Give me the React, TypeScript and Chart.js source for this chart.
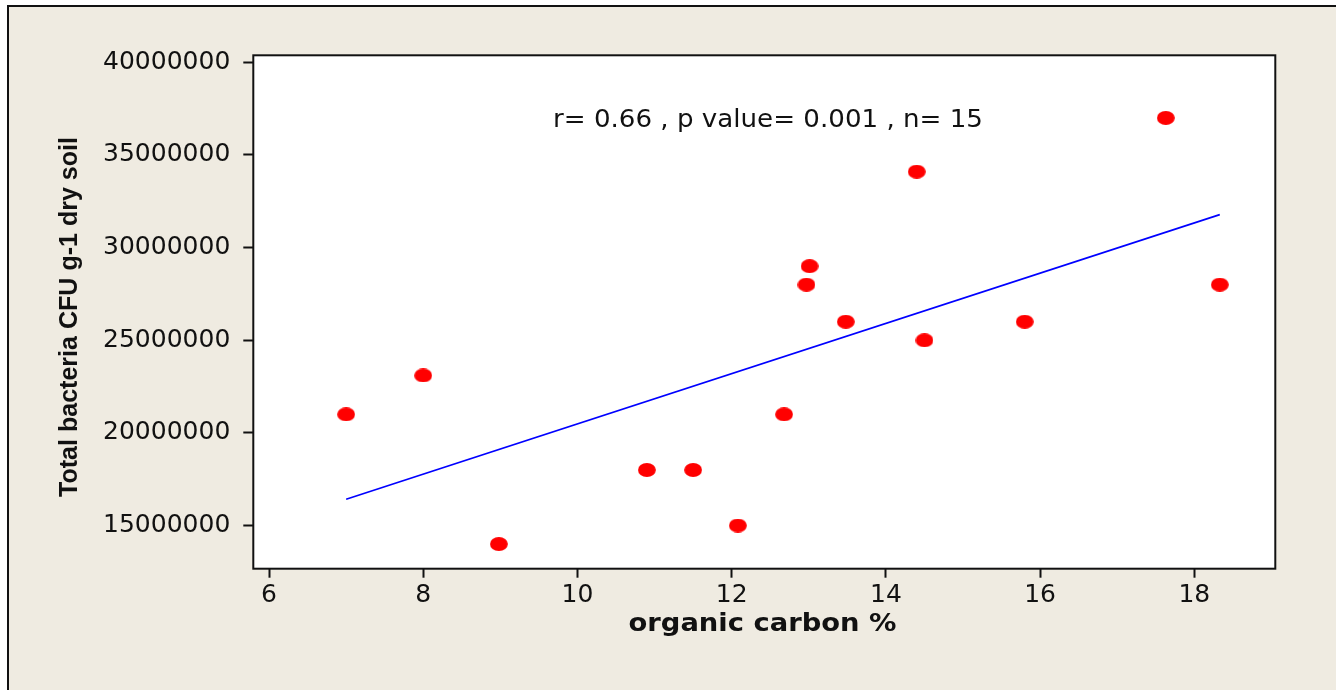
import React, { useEffect, useRef } from "react";
import { Chart, registerables } from "chart.js";

Chart.register(...registerables);

// ---- data ----
const organicCarbon = [7.0, 8.0, 8.98, 10.9, 11.5, 12.08, 12.68, 12.97, 13.01, 13.48, 14.4, 14.5, 15.8, 17.63, 18.33];
const totalBacteria = [21000000, 23100000, 14000000, 18000000, 18000000, 15000000, 21000000, 28000000, 29000000, 26000000, 34100000, 25000000, 26000000, 37000000, 28000000];
const xTickValues = [6, 8, 10, 12, 14, 16, 18];
const yTickValues = [15000000, 20000000, 25000000, 30000000, 35000000, 40000000];
const xAxisTitle = "organic carbon %";
const yAxisTitle = "Total bacteria CFU g-1 dry soil";
const statsText = "r= 0.66 , p value= 0.001 , n= 15";

// least-squares fit of the plotted data (the blue regression line)
function fitLine(xs: number[], ys: number[]) {
  const n = xs.length;
  const mx = xs.reduce((a, b) => a + b, 0) / n;
  const my = ys.reduce((a, b) => a + b, 0) / n;
  let sxy = 0;
  let sxx = 0;
  for (let i = 0; i < n; i++) {
    sxy += (xs[i] - mx) * (ys[i] - my);
    sxx += (xs[i] - mx) * (xs[i] - mx);
  }
  const slope = sxy / sxx;
  const intercept = my - slope * mx;
  const x0 = Math.min(...xs);
  const x1 = Math.max(...xs);
  return [
    { x: x0, y: intercept + slope * x0 },
    { x: x1, y: intercept + slope * x1 },
  ];
}

function makeEllipse(): HTMLCanvasElement {
  const c = document.createElement("canvas");
  c.width = 18;
  c.height = 14;
  const g = c.getContext("2d")!;
  g.fillStyle = "#ff0000";
  g.beginPath();
  g.ellipse(9, 7, 8.9, 6.9, 0, 0, Math.PI * 2);
  g.fill();
  return c;
}

function drawStretched(
  ctx: CanvasRenderingContext2D,
  text: string,
  font: string,
  targetWidth: number,
  x: number,
  y: number,
  rotation: number
) {
  ctx.save();
  ctx.font = font;
  ctx.fillStyle = "#111111";
  ctx.textAlign = "center";
  ctx.textBaseline = "alphabetic";
  const w = ctx.measureText(text).width;
  ctx.translate(x, y);
  ctx.rotate(rotation);
  ctx.scale(targetWidth / w, 1);
  ctx.fillText(text, 0, 0);
  ctx.restore();
}

const framePlugin = {
  id: "frame",
  beforeDraw(chart: any) {
    const { ctx, chartArea: a } = chart;
    ctx.save();
    ctx.fillStyle = "#ffffff";
    ctx.fillRect(a.left, a.top, a.right - a.left, a.bottom - a.top);
    ctx.restore();
  },
  afterDraw(chart: any) {
    const { ctx, chartArea: a } = chart;
    ctx.save();
    ctx.strokeStyle = "#111111";
    ctx.lineWidth = 2;
    ctx.strokeRect(a.left, a.top, a.right - a.left, a.bottom - a.top);
    ctx.restore();
    // statistics annotation
    drawStretched(ctx, statsText, "24px 'DejaVu Sans'", 430, a.left + (a.right - a.left) * 0.5036, a.top + 72, 0);
    // axis titles
    drawStretched(ctx, xAxisTitle, "bold 24px 'DejaVu Sans'", 268, 762.5, 631, 0);
    drawStretched(ctx, yAxisTitle, "bold 26px 'Liberation Sans'", 360, 76.5, 317, -Math.PI / 2);
  },
};

export default function App() {
  const canvasRef = useRef<HTMLCanvasElement | null>(null);

  useEffect(() => {
    const canvas = canvasRef.current;
    if (!canvas) return;
    const points = organicCarbon.map((x, i) => ({ x, y: totalBacteria[i] }));
    const chart = new Chart(canvas, {
      type: "scatter",
      data: {
        datasets: [
          {
            label: "samples",
            data: points,
            pointStyle: makeEllipse() as any,
            pointRadius: 9,
            pointHoverRadius: 9,
            showLine: false,
            order: 1,
          },
          {
            label: "fit",
            data: fitLine(organicCarbon, totalBacteria),
            showLine: true,
            borderColor: "#0000ff",
            borderWidth: 1.6,
            pointRadius: 0,
            pointHoverRadius: 0,
            fill: false,
            order: 2,
          },
        ],
      },
      options: {
        responsive: false,
        animation: false,
        devicePixelRatio: 1,
        layout: { padding: { top: 55.3, right: 60.7, left: 0, bottom: 0 } },
        plugins: {
          legend: { display: false },
          tooltip: { enabled: false },
        },
        scales: {
          x: {
            type: "linear",
            min: 5.796,
            max: 19.05,
            afterBuildTicks: (s: any) => {
              s.ticks = xTickValues.map((v) => ({ value: v }));
            },
            afterFit: (s: any) => {
              s.height = 121.3;
            },
            border: { display: false },
            grid: {
              display: true,
              drawOnChartArea: false,
              drawTicks: true,
              tickLength: 9,
              tickWidth: 2,
              tickColor: "#111111",
            },
            ticks: {
              color: "#111111",
              padding: 3,
              font: { family: "'DejaVu Sans'", size: 25 },
              maxRotation: 0,
              callback: (v: any) => String(v),
            },
            title: { display: false, text: xAxisTitle },
          },
          y: {
            type: "linear",
            min: 12670000,
            max: 40380000,
            afterBuildTicks: (s: any) => {
              s.ticks = yTickValues.map((v) => ({ value: v }));
            },
            afterFit: (s: any) => {
              s.width = 253.3;
            },
            border: { display: false },
            grid: {
              display: true,
              drawOnChartArea: false,
              drawTicks: true,
              tickLength: 10,
              tickWidth: 2,
              tickColor: "#111111",
            },
            ticks: {
              color: "#111111",
              padding: 13,
              font: { family: "'DejaVu Sans'", size: 25 },
              callback: (v: any) => String(v),
            },
            title: { display: false, text: yAxisTitle },
          },
        },
      },
      plugins: [framePlugin],
    });
    return () => chart.destroy();
  }, []);

  return (
    <>
      <div
        style={{
          position: "fixed",
          left: 7,
          top: 5,
          width: 1400,
          height: 800,
          border: "2px solid #111111",
          background: "#efebe1",
          boxSizing: "border-box",
        }}
      />
      <canvas
        ref={canvasRef}
        width={1336}
        height={690}
        style={{ position: "fixed", left: 0, top: 0, width: 1336, height: 690 }}
      />
    </>
  );
}
